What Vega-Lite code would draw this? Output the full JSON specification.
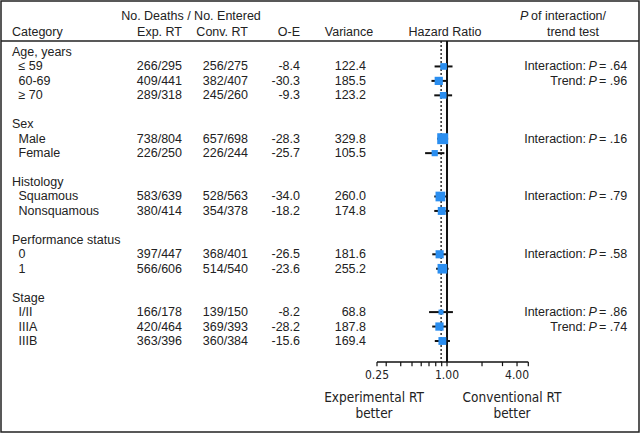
{
  "$schema": "https://vega.github.io/schema/vega-lite/v6.json",
  "width": 638,
  "height": 431,
  "padding": {"left": 1, "top": 1, "right": 1, "bottom": 1},
  "autosize": {"type": "none"},
  "background": "white",
  "config": {
    "view": {"stroke": "#222", "strokeWidth": 1.5},
    "text": {"font": "Liberation Sans", "fontSize": 12.5, "baseline": "middle", "color": "#222"}
  },
  "datasets": {
    "hdr": [{"deaths": "No. Deaths / No. Entered", "cat": "Category", "exp": "Exp. RT", "conv": "Conv. RT", "oe": "O-E", "var": "Variance", "hr": "Hazard Ratio", "p": "P", "pint": "of interaction/", "ptrend": "trend test", "left1": "Experimental RT", "left2": "better", "right1": "Conventional RT", "right2": "better"}],
    "groups": [
      {"line": 0, "label": "Age, years"},
      {"line": 5, "label": "Sex"},
      {"line": 9, "label": "Histology"},
      {"line": 13, "label": "Performance status"},
      {"line": 17, "label": "Stage"}
    ],
    "subs": [
      {"line": 1, "label": "≤ 59", "exp": "266/295", "conv": "256/275", "oe": "-8.4", "var": 122.4, "hr": 0.934, "lo": 0.782, "hi": 1.115, "ptest": "Interaction:", "pval": "= .64"},
      {"line": 2, "label": "60-69", "exp": "409/441", "conv": "382/407", "oe": "-30.3", "var": 185.5, "hr": 0.849, "lo": 0.735, "hi": 0.981, "ptest": "Trend:", "pval": "= .96"},
      {"line": 3, "label": "≥ 70", "exp": "289/318", "conv": "245/260", "oe": "-9.3", "var": 123.2, "hr": 0.927, "lo": 0.777, "hi": 1.106},
      {"line": 6, "label": "Male", "exp": "738/804", "conv": "657/698", "oe": "-28.3", "var": 329.8, "hr": 0.918, "lo": 0.824, "hi": 1.022, "ptest": "Interaction:", "pval": "= .16"},
      {"line": 7, "label": "Female", "exp": "226/250", "conv": "226/244", "oe": "-25.7", "var": 105.5, "hr": 0.784, "lo": 0.648, "hi": 0.949},
      {"line": 10, "label": "Squamous", "exp": "583/639", "conv": "528/563", "oe": "-34.0", "var": 260.0, "hr": 0.877, "lo": 0.777, "hi": 0.991, "ptest": "Interaction:", "pval": "= .79"},
      {"line": 11, "label": "Nonsquamous", "exp": "380/414", "conv": "354/378", "oe": "-18.2", "var": 174.8, "hr": 0.901, "lo": 0.777, "hi": 1.045},
      {"line": 14, "label": "0", "exp": "397/447", "conv": "368/401", "oe": "-26.5", "var": 181.6, "hr": 0.864, "lo": 0.747, "hi": 1.0, "ptest": "Interaction:", "pval": "= .58"},
      {"line": 15, "label": "1", "exp": "566/606", "conv": "514/540", "oe": "-23.6", "var": 255.2, "hr": 0.912, "lo": 0.806, "hi": 1.031},
      {"line": 18, "label": "I/II", "exp": "166/178", "conv": "139/150", "oe": "-8.2", "var": 68.8, "hr": 0.888, "lo": 0.701, "hi": 1.124, "ptest": "Interaction:", "pval": "= .86"},
      {"line": 19, "label": "IIIA", "exp": "420/464", "conv": "369/393", "oe": "-28.2", "var": 187.8, "hr": 0.861, "lo": 0.746, "hi": 0.993, "ptest": "Trend:", "pval": "= .74"},
      {"line": 20, "label": "IIIB", "exp": "363/396", "conv": "360/384", "oe": "-15.6", "var": 169.4, "hr": 0.912, "lo": 0.785, "hi": 1.06}
    ],
    "ref": [{"one": 1, "overall": 0.89, "lo": 0.25, "hi": 5}],
    "ticks": [{"v": 0.25}, {"v": 0.3}, {"v": 0.4}, {"v": 0.5}, {"v": 0.6}, {"v": 0.7}, {"v": 0.8}, {"v": 0.9}, {"v": 1}, {"v": 2}, {"v": 3}, {"v": 4}, {"v": 5}],
    "ticklabels": [{"v": 0.25, "t": "0.25"}, {"v": 1, "t": "1.00"}, {"v": 4, "t": "4.00"}]
  },
  "resolve": {"scale": {"x": "independent"}},
  "layer": [
    {
      "layer": [
        {"data": {"name": "ref"}, "mark": {"type": "rule", "color": "#222", "strokeWidth": 1.5},
         "encoding": {"y": {"datum": -0.761, "type": "quantitative", "scale": {"domain": [-3.529, 26.298], "reverse": true, "nice": false, "zero": false}, "axis": null}}},
        {"data": {"name": "hdr"}, "mark": {"type": "text", "align": "center"},
         "encoding": {"x": {"datum": 191, "type": "quantitative", "scale": {"domain": [1, 639], "nice": false, "zero": false}, "axis": null},
                      "y": {"datum": -2.491, "type": "quantitative", "axis": null}, "text": {"field": "deaths"}}},
        {"data": {"name": "hdr"}, "mark": {"type": "text", "align": "left"},
         "encoding": {"x": {"datum": 12, "type": "quantitative", "axis": null}, "y": {"datum": -1.384, "type": "quantitative", "axis": null}, "text": {"field": "cat"}}},
        {"data": {"name": "hdr"}, "mark": {"type": "text", "align": "right"},
         "encoding": {"x": {"datum": 182, "type": "quantitative", "axis": null}, "y": {"datum": -1.384, "type": "quantitative", "axis": null}, "text": {"field": "exp"}}},
        {"data": {"name": "hdr"}, "mark": {"type": "text", "align": "right"},
         "encoding": {"x": {"datum": 248, "type": "quantitative", "axis": null}, "y": {"datum": -1.384, "type": "quantitative", "axis": null}, "text": {"field": "conv"}}},
        {"data": {"name": "hdr"}, "mark": {"type": "text", "align": "right"},
         "encoding": {"x": {"datum": 300, "type": "quantitative", "axis": null}, "y": {"datum": -1.384, "type": "quantitative", "axis": null}, "text": {"field": "oe"}}},
        {"data": {"name": "hdr"}, "mark": {"type": "text", "align": "center"},
         "encoding": {"x": {"datum": 349, "type": "quantitative", "axis": null}, "y": {"datum": -1.384, "type": "quantitative", "axis": null}, "text": {"field": "var"}}},
        {"data": {"name": "hdr"}, "mark": {"type": "text", "align": "center"},
         "encoding": {"x": {"datum": 445, "type": "quantitative", "axis": null}, "y": {"datum": -1.384, "type": "quantitative", "axis": null}, "text": {"field": "hr"}}},
        {"data": {"name": "hdr"}, "mark": {"type": "text", "align": "left", "fontStyle": "italic"},
         "encoding": {"x": {"datum": 520, "type": "quantitative", "axis": null}, "y": {"datum": -2.491, "type": "quantitative", "axis": null}, "text": {"field": "p"}}},
        {"data": {"name": "hdr"}, "mark": {"type": "text", "align": "left"},
         "encoding": {"x": {"datum": 531, "type": "quantitative", "axis": null}, "y": {"datum": -2.491, "type": "quantitative", "axis": null}, "text": {"field": "pint"}}},
        {"data": {"name": "hdr"}, "mark": {"type": "text", "align": "center"},
         "encoding": {"x": {"datum": 573, "type": "quantitative", "axis": null}, "y": {"datum": -1.384, "type": "quantitative", "axis": null}, "text": {"field": "ptrend"}}},
        {"data": {"name": "hdr"}, "mark": {"type": "text", "align": "center", "font": "DejaVu Sans Condensed, Liberation Sans Narrow, sans-serif", "fontSize": 13.5},
         "encoding": {"x": {"datum": 374, "type": "quantitative", "axis": null}, "y": {"datum": 23.945, "type": "quantitative", "axis": null}, "text": {"field": "left1"}}},
        {"data": {"name": "hdr"}, "mark": {"type": "text", "align": "center", "font": "DejaVu Sans Condensed, Liberation Sans Narrow, sans-serif", "fontSize": 13.5},
         "encoding": {"x": {"datum": 374, "type": "quantitative", "axis": null}, "y": {"datum": 25.052, "type": "quantitative", "axis": null}, "text": {"field": "left2"}}},
        {"data": {"name": "hdr"}, "mark": {"type": "text", "align": "center", "font": "DejaVu Sans Condensed, Liberation Sans Narrow, sans-serif", "fontSize": 13.5},
         "encoding": {"x": {"datum": 512, "type": "quantitative", "axis": null}, "y": {"datum": 23.945, "type": "quantitative", "axis": null}, "text": {"field": "right1"}}},
        {"data": {"name": "hdr"}, "mark": {"type": "text", "align": "center", "font": "DejaVu Sans Condensed, Liberation Sans Narrow, sans-serif", "fontSize": 13.5},
         "encoding": {"x": {"datum": 512, "type": "quantitative", "axis": null}, "y": {"datum": 25.052, "type": "quantitative", "axis": null}, "text": {"field": "right2"}}},
        {"data": {"name": "groups"}, "mark": {"type": "text", "align": "left"},
         "encoding": {"x": {"datum": 12, "type": "quantitative", "axis": null}, "y": {"field": "line", "type": "quantitative", "axis": null}, "text": {"field": "label"}}},
        {"data": {"name": "subs"}, "mark": {"type": "text", "align": "left"},
         "encoding": {"x": {"datum": 18.5, "type": "quantitative", "axis": null}, "y": {"field": "line", "type": "quantitative", "axis": null}, "text": {"field": "label"}}},
        {"data": {"name": "subs"}, "mark": {"type": "text", "align": "right"},
         "encoding": {"x": {"datum": 182, "type": "quantitative", "axis": null}, "y": {"field": "line", "type": "quantitative", "axis": null}, "text": {"field": "exp"}}},
        {"data": {"name": "subs"}, "mark": {"type": "text", "align": "right"},
         "encoding": {"x": {"datum": 248, "type": "quantitative", "axis": null}, "y": {"field": "line", "type": "quantitative", "axis": null}, "text": {"field": "conv"}}},
        {"data": {"name": "subs"}, "mark": {"type": "text", "align": "right"},
         "encoding": {"x": {"datum": 300, "type": "quantitative", "axis": null}, "y": {"field": "line", "type": "quantitative", "axis": null}, "text": {"field": "oe"}}},
        {"data": {"name": "subs"}, "mark": {"type": "text", "align": "right"},
         "encoding": {"x": {"datum": 366, "type": "quantitative", "axis": null}, "y": {"field": "line", "type": "quantitative", "axis": null}, "text": {"field": "var", "type": "quantitative", "format": ".1f"}}},
        {"data": {"name": "subs"}, "transform": [{"filter": "isValid(datum.ptest)"}], "mark": {"type": "text", "align": "right"},
         "encoding": {"x": {"datum": 586, "type": "quantitative", "axis": null}, "y": {"field": "line", "type": "quantitative", "axis": null}, "text": {"field": "ptest"}}},
        {"data": {"name": "subs"}, "transform": [{"filter": "isValid(datum.ptest)"}], "mark": {"type": "text", "align": "left", "fontStyle": "italic"},
         "encoding": {"x": {"datum": 588.5, "type": "quantitative", "axis": null}, "y": {"field": "line", "type": "quantitative", "axis": null}, "text": {"value": "P"}}},
        {"data": {"name": "subs"}, "transform": [{"filter": "isValid(datum.ptest)"}], "mark": {"type": "text", "align": "left"},
         "encoding": {"x": {"datum": 599, "type": "quantitative", "axis": null}, "y": {"field": "line", "type": "quantitative", "axis": null}, "text": {"field": "pval"}}}
      ]
    },
    {
      "layer": [
        {"data": {"name": "ref"}, "mark": {"type": "rule", "color": "#111", "strokeWidth": 2},
         "encoding": {
           "x": {"field": "one", "type": "quantitative",
                 "scale": {"type": "log", "domain": [0.25, 5], "range": [376, 527.3], "nice": false, "zero": false},
                 "axis": null},
           "y": {"datum": -0.761, "type": "quantitative", "axis": null},
           "y2": {"datum": 21.45}}},
        {"data": {"name": "ref"}, "mark": {"type": "rule", "color": "#111", "strokeWidth": 1.3, "strokeDash": [2, 2]},
         "encoding": {"x": {"field": "overall", "type": "quantitative", "axis": null},
                      "y": {"datum": -0.761, "type": "quantitative", "axis": null}, "y2": {"datum": 21.45}}},
        {"data": {"name": "ref"}, "mark": {"type": "rule", "color": "#111", "strokeWidth": 1.5},
         "encoding": {"x": {"field": "lo", "type": "quantitative", "axis": null}, "x2": {"field": "hi"},
                      "y": {"datum": 21.45, "type": "quantitative", "axis": null}}},
        {"data": {"name": "ticks"}, "mark": {"type": "rule", "color": "#111", "strokeWidth": 1.2},
         "encoding": {"x": {"field": "v", "type": "quantitative", "axis": null},
                      "y": {"datum": 21.45, "type": "quantitative", "axis": null}, "y2": {"datum": 21.74}}},
        {"data": {"name": "ticklabels"}, "mark": {"type": "text", "align": "center", "font": "DejaVu Sans Condensed, Liberation Sans Narrow, sans-serif", "fontSize": 12},
         "encoding": {"x": {"field": "v", "type": "quantitative", "axis": null},
                      "y": {"datum": 22.32, "type": "quantitative", "axis": null}, "text": {"field": "t"}}},
        {"data": {"name": "subs"}, "mark": {"type": "rule", "color": "#111", "strokeWidth": 2},
         "encoding": {"x": {"field": "lo", "type": "quantitative", "axis": null}, "x2": {"field": "hi"},
                      "y": {"field": "line", "type": "quantitative", "axis": null}}},
        {"data": {"name": "subs"}, "mark": {"type": "point", "shape": "square", "filled": true, "color": "#2a8ef0", "opacity": 1},
         "encoding": {"x": {"field": "hr", "type": "quantitative", "axis": null},
                      "y": {"field": "line", "type": "quantitative", "axis": null},
                      "size": {"field": "var", "type": "quantitative", "scale": {"domain": [0, 330], "range": [0, 120]}, "legend": null}}}
      ]
    }
  ]
}
